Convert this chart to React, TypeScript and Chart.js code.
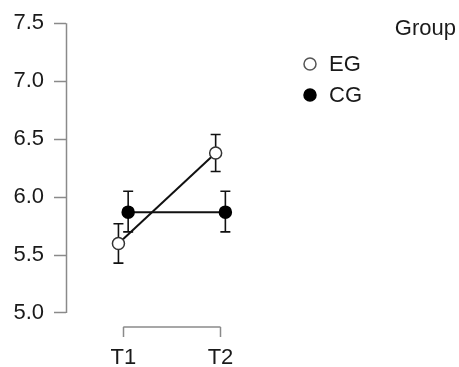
import React, { useEffect, useRef } from "react";
import { Chart, registerables } from "chart.js";

Chart.register(...registerables);

const categories = ["T1", "T2"];
const groups = ["EG", "CG"];
const egMean = [5.6, 6.38];
const egLower = [5.43, 6.22];
const egUpper = [5.77, 6.54];
const cgMean = [5.87, 5.87];
const cgLower = [5.7, 5.7];
const cgUpper = [6.05, 6.05];
const yTicks = [5.0, 5.5, 6.0, 6.5, 7.0, 7.5];

const FONT = "'Liberation Sans', Arial, sans-serif";
const AXIS = "#8a8a8a";
const TEXT = "#1a1a1a";
const DODGE = 0.05;

export default function App() {
  const ref = useRef<HTMLCanvasElement | null>(null);

  useEffect(() => {
    document.body.style.margin = "0";
    const canvas = ref.current;
    if (!canvas) return;

    const mk = (mean: number[], off: number) =>
      mean.map((v, i) => ({ x: i + 1 + off, y: v }));

    const errors = [
      { off: -DODGE, lo: egLower, hi: egUpper },
      { off: DODGE, lo: cgLower, hi: cgUpper },
    ];

    const plugin = {
      id: "custom",
      beforeDatasetsDraw(chart: any) {
        const ctx = chart.ctx;
        const xs = chart.scales.x;
        const ys = chart.scales.y;
        ctx.save();
        // axes
        ctx.strokeStyle = AXIS;
        ctx.lineWidth = 1.5;
        ctx.beginPath();
        const ax = Math.round(chart.chartArea.left) + 0.5;
        ctx.moveTo(ax, ys.getPixelForValue(yTicks[0]));
        ctx.lineTo(ax, ys.getPixelForValue(yTicks[yTicks.length - 1]));
        const by = chart.chartArea.bottom;
        ctx.moveTo(xs.getPixelForValue(1), by);
        ctx.lineTo(xs.getPixelForValue(categories.length), by);
        ctx.stroke();
        // error bars
        ctx.strokeStyle = "#111";
        ctx.lineWidth = 1.6;
        errors.forEach((e) => {
          e.lo.forEach((lo, i) => {
            const px = xs.getPixelForValue(i + 1 + e.off);
            const p1 = ys.getPixelForValue(lo);
            const p2 = ys.getPixelForValue(e.hi[i]);
            ctx.beginPath();
            ctx.moveTo(px, p1);
            ctx.lineTo(px, p2);
            ctx.moveTo(px - 5, p1);
            ctx.lineTo(px + 5, p1);
            ctx.moveTo(px - 5, p2);
            ctx.lineTo(px + 5, p2);
            ctx.stroke();
          });
        });
        ctx.restore();
      },
      afterDraw(chart: any) {
        const ctx = chart.ctx;
        ctx.save();
        ctx.font = `22px ${FONT}`;
        ctx.fillStyle = TEXT;
        ctx.textBaseline = "middle";
        ctx.textAlign = "right";
        ctx.fillText("Group", 456, 29);
        ctx.textAlign = "left";
        const fills = ["#ffffff", "#000000"];
        const ys = [64, 95];
        groups.forEach((g, i) => {
          ctx.beginPath();
          ctx.arc(310, ys[i], 6, 0, Math.PI * 2);
          ctx.fillStyle = fills[i];
          ctx.fill();
          ctx.strokeStyle = i === 0 ? "#555" : "#000";
          ctx.lineWidth = 1.5;
          ctx.stroke();
          ctx.fillStyle = TEXT;
          ctx.fillText(g, 329, ys[i] + 1);
        });
        ctx.restore();
      },
    };

    const chart = new Chart(canvas, {
      type: "scatter",
      data: {
        datasets: [
          {
            label: groups[0],
            data: mk(egMean, -DODGE),
            showLine: true,
            borderColor: "#111",
            borderWidth: 2,
            pointBackgroundColor: "#ffffff",
            pointBorderColor: "#333",
            pointBorderWidth: 1.5,
            pointRadius: 6,
          },
          {
            label: groups[1],
            data: mk(cgMean, DODGE),
            showLine: true,
            borderColor: "#111",
            borderWidth: 2,
            pointBackgroundColor: "#000000",
            pointBorderColor: "#000",
            pointBorderWidth: 1.5,
            pointRadius: 6,
          },
        ],
      },
      options: {
        animation: false,
        responsive: false,
        events: [],
        layout: { padding: { top: 23, right: 179, left: 0, bottom: 0 } },
        plugins: { legend: { display: false }, tooltip: { enabled: false } },
        scales: {
          x: {
            type: "linear",
            min: 0.4105,
            max: 2.612,
            afterBuildTicks: (s: any) => {
              s.ticks = categories.map((_, i) => ({ value: i + 1 }));
            },
            afterFit: (s: any) => {
              s.height = 40;
            },
            ticks: {
              callback: (v: any) => categories[Math.round(v) - 1] ?? "",
              font: { size: 22, family: FONT },
              color: TEXT,
              padding: 8,
              maxRotation: 0,
              autoSkip: false,
            },
            grid: {
              drawOnChartArea: false,
              drawTicks: true,
              tickLength: 10,
              tickColor: AXIS,
              tickWidth: 1.5,
            },
            border: { display: false },
          },
          y: {
            type: "linear",
            min: 4.879,
            max: 7.5,
            afterBuildTicks: (s: any) => {
              s.ticks = yTicks.map((v) => ({ value: v }));
            },
            afterFit: (s: any) => {
              s.width = 66;
            },
            ticks: {
              callback: (v: any) => Number(v).toFixed(1),
              font: { size: 22, family: FONT },
              color: TEXT,
              padding: 10,
            },
            grid: {
              drawOnChartArea: false,
              drawTicks: true,
              tickLength: 12,
              tickColor: AXIS,
              tickWidth: 1.5,
            },
            border: { display: false },
          },
        },
      },
      plugins: [plugin],
    } as any);

    return () => chart.destroy();
  }, []);

  return (
    <div style={{ width: 459, height: 367, position: "relative", background: "#fff" }}>
      <canvas ref={ref} width={459} height={367} style={{ display: "block" }} />
    </div>
  );
}
